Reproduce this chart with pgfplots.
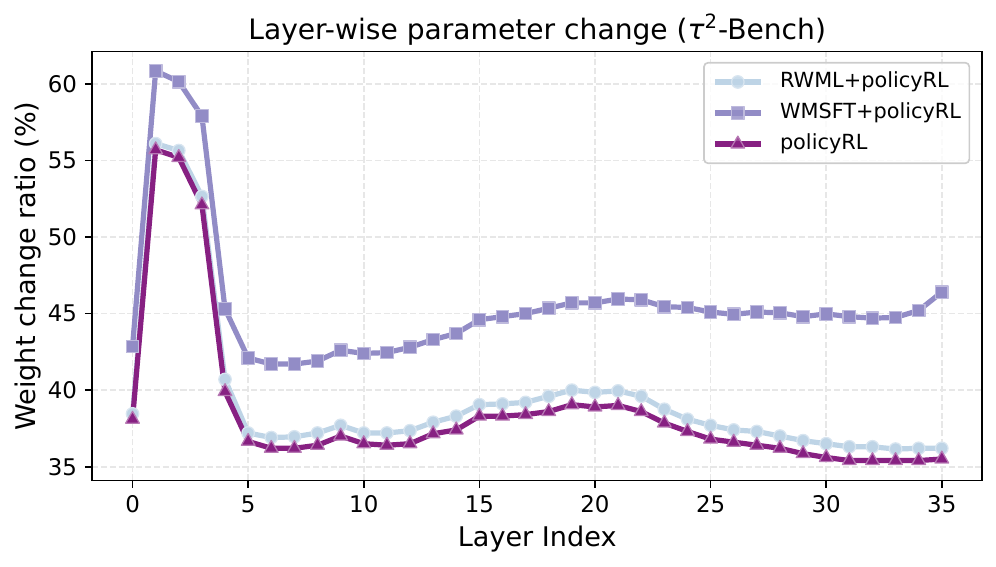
\documentclass[border=0pt]{standalone}
\usepackage{fontspec}
\setmainfont{DejaVu Sans}
\usepackage{pgfplots}
\pgfplotsset{compat=1.18}

\definecolor{rwml}{RGB}{190,212,230}
\definecolor{wmsft}{RGB}{146,140,198}
\definecolor{prl}{RGB}{135,32,130}
\definecolor{gridgray}{RGB}{231,231,231}
\definecolor{legframe}{RGB}{204,204,204}

\begin{document}
\begin{tikzpicture}
\path[use as bounding box] (-44.2pt,-41.3pt) rectangle (433.9pt,230.7pt);
\begin{axis}[
    at={(0,0)}, anchor=south west,
    scale only axis,
    width=427.3pt, height=205.9pt,
    xmin=-1.75, xmax=36.75,
    ymin=34.09, ymax=62.11,
    xtick={0,5,...,35},
    ytick={35,40,...,60},
    tick align=outside, tick pos=left,
    major tick length=3.5pt,
    every tick/.style={black, line width=0.8pt},
    axis line style={line width=0.8pt},
    grid=major,
    major grid style={gridgray, line width=0.8pt, dash pattern=on 2.96pt off 1.28pt},
    /pgf/number format/assume math mode=true,
    ticklabel style={font=\fontsize{11}{13}\selectfont},
    xticklabel style={anchor=base, inner sep=0pt, yshift=-12pt},
    yticklabel style={anchor=east, inner sep=0pt, xshift=-3.5pt},
    title={Layer-wise parameter change ({\itshape τ}\textsuperscript{2}-Bench)},
    title style={at={(axis description cs:0.5,1.028)}, anchor=base, yshift=-6pt,
        font=\fontsize{13.5}{16}\selectfont},
    xlabel={Layer Index},
    ylabel={Weight change ratio (\%)},
    every axis x label/.style={at={(axis description cs:0.5,-0.154)},
        anchor=base, font=\fontsize{13}{15}\selectfont},
    every axis y label/.style={at={(axis description cs:-0.0632,0.5)},
        rotate=90, anchor=base, font=\fontsize{13}{15}\selectfont},
    legend style={at={(1,1)}, anchor=north east, xshift=-5.8pt, yshift=-4.9pt,
        draw=legframe, line width=0.8pt, fill=white, fill opacity=0.8,
        draw opacity=1, text opacity=1, rounded corners=2pt,
        inner xsep=4pt, inner ysep=4.5pt, row sep=5.4pt,
        font=\fontsize{10}{12}\selectfont,
        nodes={inner sep=0pt, text height=7.5pt, text depth=2pt},
        /tikz/every odd column/.append style={column sep=8pt}},
    legend cell align=left,
    legend image code/.code={\draw[mark repeat=2, mark phase=2, #1]
        plot coordinates {(0pt,0pt) (11pt,0pt) (22pt,0pt)};},
]
\addplot[rwml, line width=2.5pt, line join=round, mark=*, mark size=3pt,
    mark options={fill=rwml, draw=rwml!60!white, line width=0.6pt}] coordinates {
    (0,38.45) (1,56.1) (2,55.65) (3,52.65) (4,40.7) (5,37.2) (6,36.9) (7,36.95)
    (8,37.2) (9,37.7) (10,37.2) (11,37.2) (12,37.35) (13,37.9) (14,38.3) (15,39.05)
    (16,39.1) (17,39.2) (18,39.6) (19,40.0) (20,39.85) (21,39.95) (22,39.6) (23,38.75)
    (24,38.1) (25,37.7) (26,37.4) (27,37.3) (28,37.0) (29,36.7) (30,36.5) (31,36.3)
    (32,36.3) (33,36.15) (34,36.2) (35,36.2)
};
\addlegendentry{RWML+policyRL}
\addplot[wmsft, line width=2.5pt, line join=round, mark=square*, mark size=3pt,
    mark options={fill=wmsft, draw=wmsft!60!white, line width=0.6pt}] coordinates {
    (0,42.85) (1,60.85) (2,60.15) (3,57.9) (4,45.3) (5,42.1) (6,41.7) (7,41.7)
    (8,41.9) (9,42.6) (10,42.4) (11,42.45) (12,42.8) (13,43.3) (14,43.7) (15,44.6)
    (16,44.8) (17,45.0) (18,45.35) (19,45.7) (20,45.7) (21,45.95) (22,45.9) (23,45.45)
    (24,45.4) (25,45.1) (26,44.95) (27,45.1) (28,45.05) (29,44.8) (30,44.98) (31,44.8)
    (32,44.7) (33,44.75) (34,45.2) (35,46.4)
};
\addlegendentry{WMSFT+policyRL}
\addplot[prl, line width=2.5pt, line join=round, mark=triangle*, mark size=3.8pt,
    mark options={fill=prl, draw=prl!60!white, line width=0.6pt}] coordinates {
    (0,38.1) (1,55.7) (2,55.2) (3,52.1) (4,39.9) (5,36.65) (6,36.2) (7,36.2)
    (8,36.4) (9,37.0) (10,36.5) (11,36.4) (12,36.5) (13,37.15) (14,37.4) (15,38.3)
    (16,38.3) (17,38.4) (18,38.6) (19,39.05) (20,38.9) (21,39.0) (22,38.6) (23,37.85)
    (24,37.3) (25,36.8) (26,36.6) (27,36.4) (28,36.2) (29,35.85) (30,35.6) (31,35.4)
    (32,35.4) (33,35.4) (34,35.4) (35,35.5)
};
\addlegendentry{policyRL}
\end{axis}
\end{tikzpicture}
\end{document}
